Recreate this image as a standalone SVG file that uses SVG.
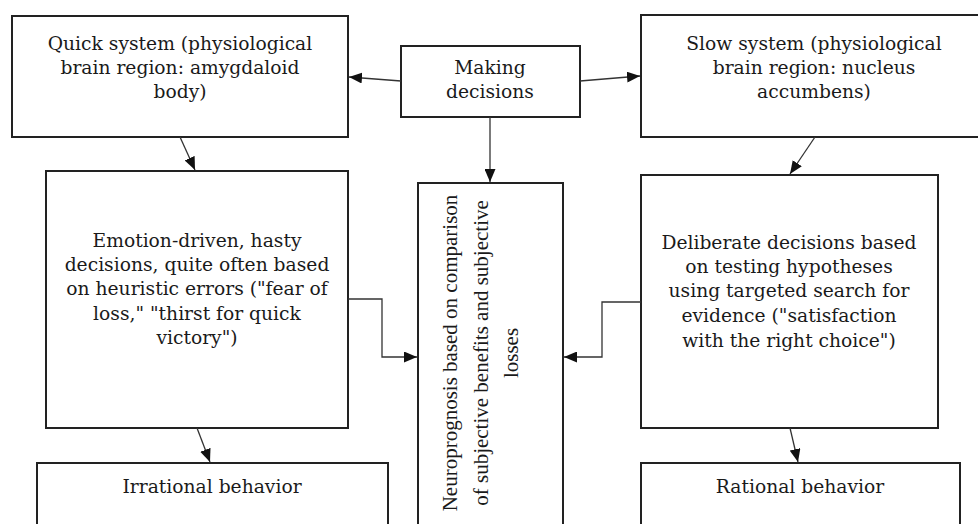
<svg xmlns="http://www.w3.org/2000/svg" width="978" height="524" viewBox="0 0 978 524">
<defs>
<marker id="arr" markerUnits="userSpaceOnUse" markerWidth="13" markerHeight="11" refX="13" refY="5.5" orient="auto">
<path d="M0,0 L13,5.5 L0,11 z" fill="#111"/>
</marker>
<style>
rect.box{fill:#fff;stroke:#222;stroke-width:2}
text{font-family:"DejaVu Serif","Liberation Serif",serif;font-size:18.7px;fill:#1a1a1a;text-anchor:middle}
text.v{font-family:"Liberation Serif","Times New Roman",serif;font-size:21px}
.c{fill:none;stroke:#333;stroke-width:1.3;marker-end:url(#arr)}
</style>
</defs>
<rect width="978" height="524" fill="#fff"/>
<g id="quick">
<rect class="box" x="12" y="16" width="336" height="121"/>
<text x="180" y="50">Quick system (physiological</text>
<text x="180" y="74">brain region: amygdaloid</text>
<text x="180" y="98">body)</text>
</g>
<g id="making">
<rect class="box" x="401" y="46" width="179" height="71"/>
<text x="490" y="74">Making</text>
<text x="490" y="98">decisions</text>
</g>
<g id="slow">
<rect class="box" x="641" y="15" width="360" height="122"/>
<text x="814" y="50">Slow system (physiological</text>
<text x="814" y="74">brain region: nucleus</text>
<text x="814" y="98">accumbens)</text>
</g>
<g id="emotion">
<rect class="box" x="46" y="171" width="302" height="257"/>
<text x="197" y="247">Emotion-driven, hasty</text>
<text x="197" y="271">decisions, quite often based</text>
<text x="197" y="295">on heuristic errors ("fear of</text>
<text x="197" y="320">loss," "thirst for quick</text>
<text x="197" y="344">victory")</text>
</g>
<g id="neuro">
<rect class="box" x="418" y="183" width="145" height="360"/>
<g transform="translate(0,353) rotate(-90)">
<text class="v" x="0" y="457">Neuroprognosis based on comparison</text>
<text class="v" x="0" y="488">of subjective benefits and subjective</text>
<text class="v" x="0" y="518">losses</text>
</g>
</g>
<g id="deliberate">
<rect class="box" x="641" y="175" width="297" height="253"/>
<text x="789" y="249">Deliberate decisions based</text>
<text x="789" y="273">on testing hypotheses</text>
<text x="789" y="297">using targeted search for</text>
<text x="789" y="322">evidence ("satisfaction</text>
<text x="789" y="347">with the right choice")</text>
</g>
<g id="irrational">
<rect class="box" x="37" y="463" width="351" height="80"/>
<text x="212" y="493">Irrational behavior</text>
</g>
<g id="rational">
<rect class="box" x="641" y="463" width="319" height="80"/>
<text x="800" y="493">Rational behavior</text>
</g>
<g id="connectors">
<line class="c" x1="401" y1="81" x2="349" y2="77"/>
<line class="c" x1="580" y1="81" x2="640" y2="76"/>
<line class="c" x1="490" y1="117" x2="490" y2="182"/>
<line class="c" x1="180" y1="137" x2="195" y2="170"/>
<line class="c" x1="815" y1="137" x2="790" y2="174"/>
<polyline class="c" points="348,299 382,299 382,357 417,357"/>
<polyline class="c" points="641,302 602,302 602,357 564,357"/>
<line class="c" x1="197" y1="428" x2="210" y2="462"/>
<line class="c" x1="790" y1="428" x2="798" y2="462"/>
</g>
</svg>
